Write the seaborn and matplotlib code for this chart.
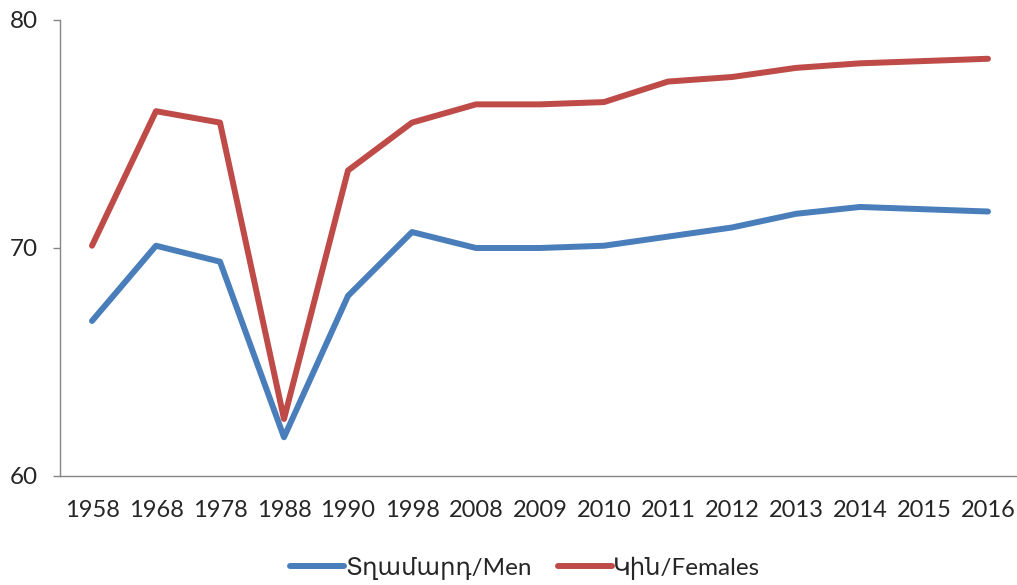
import matplotlib
matplotlib.use("Agg")
import matplotlib.pyplot as plt
import seaborn as sns
import pandas as pd
import numpy as np

years = ["1958", "1968", "1978", "1988", "1990", "1998", "2008", "2009",
         "2010", "2011", "2012", "2013", "2014", "2015", "2016"]
men = [66.8, 70.1, 69.4, 61.7, 67.9, 70.7, 70.0, 70.0, 70.1, 70.5, 70.9, 71.5, 71.8, 71.7, 71.6]
women = [70.1, 76.0, 75.5, 62.5, 73.4, 75.5, 76.3, 76.3, 76.4, 77.3, 77.5, 77.9, 78.1, 78.2, 78.3]
series_names = ["Տղամարդ/Men", "Կին/Females"]
colors = ["#4A7EBB", "#BE4B48"]

sns.set_style("white")
plt.rcParams['font.family'] = ['Lato', 'DejaVu Sans']

df = pd.DataFrame({
    "year": years * 2,
    "value": men + women,
    "series": [series_names[0]] * len(years) + [series_names[1]] * len(years),
})

fig = plt.figure(figsize=(10.17, 5.85), dpi=100)
ax = fig.add_axes([60 / 1017, 109 / 585, 960 / 1017, 456 / 585])

sns.lineplot(data=df, x="year", y="value", hue="series", palette=colors,
             linewidth=4.3, ax=ax, sort=False, legend=True)

ax.set_xlim(-0.5, len(years) - 0.5)
ax.set_ylim(60, 80)
ax.set_yticks([60, 70, 80])
ax.set_xticks(range(len(years)))
ax.set_xticklabels(years)
ax.set_xticks(np.arange(-0.5, len(years), 1.0), minor=True)
ax.set_xlabel("")
ax.set_ylabel("")

for s in ["top", "right"]:
    ax.spines[s].set_visible(False)
for s in ["left", "bottom"]:
    ax.spines[s].set_color("#868686")
    ax.spines[s].set_linewidth(1.0)

ax.tick_params(axis="x", which="major", length=0, pad=17, labelsize=17, labelcolor="#262626")
ax.tick_params(axis="x", which="minor", length=5, width=1, color="#868686", direction="out")
ax.tick_params(axis="y", which="major", length=5, width=1, color="#868686", direction="out",
               pad=11, labelsize=17.5, labelcolor="#262626", left=True)

handles, labels = ax.get_legend_handles_labels()
ax.get_legend().remove()
leg = fig.legend(handles, labels, loc="center", bbox_to_anchor=(525 / 1017, 1 - 568 / 585),
                 ncol=2, frameon=False, fontsize=17.5, handlelength=2.2, handletextpad=0.05,
                 columnspacing=1.1)
for t in leg.get_texts():
    t.set_color("#262626")

fig.savefig("out.png", dpi=100)
